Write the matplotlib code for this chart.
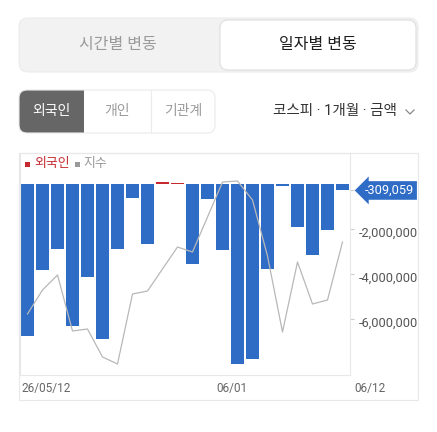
import numpy as np
import matplotlib
matplotlib.use("Agg")
import matplotlib.pyplot as plt
from matplotlib.patches import FancyBboxPatch, Rectangle
from matplotlib.lines import Line2D
import matplotlib.transforms as mtransforms

plt.rcParams['font.family'] = ['Roboto', 'Noto Sans CJK KR', 'DejaVu Sans']

# ---- data -------------------------------------------------------------
dates = ['26/05/12', '05/13', '05/14', '05/15', '05/18', '05/19', '05/20',
         '05/21', '05/22', '05/26', '05/27', '05/28', '05/29', '06/01',
         '06/02', '06/04', '06/05', '06/08', '06/09', '06/10', '06/11',
         '06/12']
foreign = [-6760000, -3840000, -2900000, -6320000, -4160000, -6900000,
           -2910000, -630000, -2690000, 80000, 15000, -3560000, -700000,
           -2960000, -8010000, -7800000, -3790000, -110000, -1930000,
           -3190000, -2080000, -309059]
index_vals = [2626, 2650, 2665, 2609, 2611, 2583, 2576, 2646, 2649, 2671,
              2693, 2688, 2723, 2758, 2759, 2740, 2684, 2608, 2678, 2636,
              2640, 2698]
yticks = [-2000000, -4000000, -6000000]
date_labels = ['26/05/12', '06/01', '06/12']

BLUE = '#2f6cc6'
RED = '#c62a2f'

W, H = 437, 432
fig = plt.figure(figsize=(W / 100, H / 100), dpi=100)
fig.patch.set_facecolor('white')


def fx(x):
    return x / W


def fy(y):
    return 1 - y / H


def rbox(x0, y0, x1, y1, r, fc, ec, lw=1.0, z=1):
    p = FancyBboxPatch((fx(x0), fy(y1)), fx(x1 - x0), (y1 - y0) / H,
                       boxstyle=f"round,pad=0,rounding_size={r / W}",
                       transform=fig.transFigure, fc=fc, ec=ec, lw=lw,
                       zorder=z, mutation_aspect=W / H)
    fig.add_artist(p)


# ---- top segmented control -------------------------------------------
rbox(19, 18, 418, 72, 9, '#f2f2f2', '#ececec', 0.8)
rbox(220, 20, 416, 70, 8, 'white', '#dedede', 0.8, z=2)
fig.text(fx(118), fy(45), '시간별 변동', ha='center', va='center',
         fontsize=11.5, color='#9a9a9a')
fig.text(fx(318), fy(45), '일자별 변동', ha='center', va='center',
         fontsize=11.5, color='#1e1e1e')

# ---- investor toggle --------------------------------------------------
rbox(19, 90, 100, 133, 8, '#666666', 'none', 0, z=1)
fig.add_artist(Rectangle((fx(84), fy(133)), fx(120), 43 / H,
                         transform=fig.transFigure, fc='white', ec='none',
                         zorder=1.5))
rbox(19, 90, 215, 133, 8, 'none', '#ebebeb', 0.8, z=2)
fig.add_artist(Line2D([fx(151), fx(151)], [fy(91), fy(132)],
                      transform=fig.transFigure, color='#ebebeb', lw=0.8))
fig.text(fx(51.5), fy(111.5), '외국인', ha='center', va='center',
         fontsize=10, color='white', fontweight='medium')
fig.text(fx(117), fy(111.5), '개인', ha='center', va='center',
         fontsize=10, color='#9a9a9a')
fig.text(fx(183), fy(111.5), '기관계', ha='center', va='center',
         fontsize=10, color='#9a9a9a')
fig.text(fx(397), fy(111.5), '코스피 · 1개월 · 금액', ha='right', va='center',
         fontsize=10.5, color='#333333')
fig.add_artist(Line2D([fx(406), fx(410), fx(414)], [fy(110), fy(114), fy(110)],
                      transform=fig.transFigure, color='#888888', lw=0.9))

# ---- chart frame -------------------------------------------------------
fig.add_artist(Rectangle((fx(19), fy(400)), fx(399), 247 / H,
                         transform=fig.transFigure, fc='none',
                         ec='#e8e8e8', lw=0.8, zorder=0.5))

ax = fig.add_axes([fx(20), fy(375), fx(330), 222 / H])
x = np.arange(len(foreign))
colors = [RED if v > 0 else BLUE for v in foreign]
ax.bar(x, foreign, width=0.88, color=colors, edgecolor='none', zorder=2)
ax.set_xlim(-0.5, len(foreign) - 0.5)
ax.set_ylim(-8511000, 1356000)
for s in ax.spines.values():
    s.set_color('#e8e8e8')
    s.set_linewidth(0.8)
ax.set_xticks([])

# index line on hidden twin axis
ax2 = ax.twinx()
ax2.plot(x, index_vals, color='#b8b8b8', lw=0.9, zorder=3)
ax2.set_ylim(2565, 2787)
ax2.set_yticks([])
for s in ax2.spines.values():
    s.set_visible(False)

ax.yaxis.tick_right()
ax.set_yticks(yticks + [foreign[-1]])
ax.set_yticklabels([f'{v:,}' for v in yticks] + [''])
ax.tick_params(axis='y', which='both', left=False, labelleft=False,
               right=True, labelright=True, length=3, width=0.8,
               color='#cccccc', pad=3, labelsize=9.2, labelcolor='#555555')
shift = mtransforms.ScaledTranslation(0, -3 / 100, fig.dpi_scale_trans)
for lbl in ax.get_yticklabels():
    lbl.set_transform(lbl.get_transform() + shift)

# date labels, left-aligned at bar edges
for lab in date_labels[:2]:
    i = dates.index(lab)
    ax.text(i - 0.42, -0.06, lab, transform=ax.get_xaxis_transform(),
            ha='left', va='center', fontsize=8.5, color='#666666')
ax.text(1.012, -0.06, date_labels[2], transform=ax.transAxes,
        ha='left', va='center', fontsize=8.5, color='#666666')

# last value marker
ax2.text(1.045, foreign[-1], f'{foreign[-1]:,}',
         transform=mtransforms.blended_transform_factory(ax.transAxes,
                                                         ax.transData),
         ha='left', va='center', fontsize=9.2, color='white', zorder=5,
         bbox=dict(boxstyle='larrow,pad=0.22', fc=BLUE, ec='none'),
         clip_on=False)

# legend
fig.add_artist(Rectangle((fx(24.5), fy(167)), fx(5), 5 / H,
                         transform=fig.transFigure, fc=RED, ec='none'))
fig.text(fx(34), fy(163), '외국인', ha='left', va='center', fontsize=9.3,
         color=RED)
fig.add_artist(Rectangle((fx(74.5), fy(167)), fx(5), 5 / H,
                         transform=fig.transFigure, fc='#9a9a9a', ec='none'))
fig.text(fx(83), fy(163), '지수', ha='left', va='center', fontsize=9.3,
         color='#999999')

fig.savefig('out.png', dpi=100, facecolor='white')
